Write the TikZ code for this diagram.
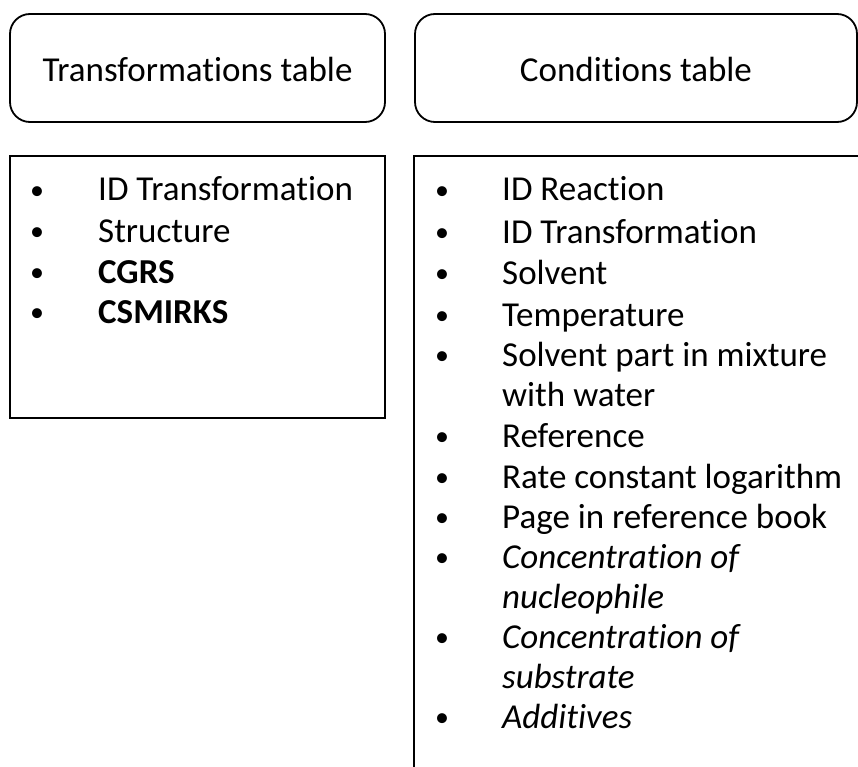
\documentclass[tikz,border=0pt]{standalone}
\usepackage{fontspec}
\setmainfont[Ligatures={NoCommon},RawFeature={-liga;-clig}]{Carlito}
\begin{document}
\begin{tikzpicture}[x=1pt,y=-1pt,
  hdrbox/.style={draw=black,line width=1.8pt,rounded corners=20pt},
  listbox/.style={draw=black,line width=1.8pt},
  hdrtext/.style={font=\fontsize{35}{40}\selectfont,inner sep=0pt,anchor=base},
  item/.style={font=\fontsize{35}{40}\selectfont,inner sep=0pt,anchor=base west},
  bul/.style={font=\fontsize{28}{32}\selectfont,inner sep=0pt,anchor=center}]
\useasboundingbox (0,0) rectangle (858,767);
\clip (0,0) rectangle (858,767);
% header boxes
\draw[hdrbox] (10,14) rectangle (385,122);
\draw[hdrbox] (415,14) rectangle (857,122);
\node[hdrtext] (t1) at (197.5,82) {Transformations table};
\node[hdrtext] (t2) at (636,82) {Conditions table};
% list boxes
\draw[listbox] (10,156) rectangle (385,418);
\draw[listbox] (414,156) rectangle (900,800);
% left list
\foreach \y/\txt [count=\i] in {201/{ID Transformation},242/{Structure},283/{\textbf{CGRS}},323/{\textbf{CSMIRKS}}}{
  \node[bul] (lb\i) at (37,\y-8) {•};
  \node[item] (li\i) at (98,\y) {\txt};
}
% right list
\foreach \y/\txt [count=\i] in {201/{ID Reaction},243/{ID Transformation},284/{Solvent},326/{Temperature},366/{Solvent part in mixture},447/{Reference},488/{Rate constant logarithm},528/{Page in reference book},568/{\textit{Concentration of}},648/{\textit{Concentration of}},728/{\textit{Additives}}}{
  \node[bul] (rb\i) at (442,\y-8) {•};
  \node[item] (ri\i) at (502,\y) {\txt};
}
\node[item] (rc1) at (502,406) {with water};
\node[item] (rc2) at (502,608) {\textit{nucleophile}};
\node[item] (rc3) at (502,688) {\textit{substrate}};
\end{tikzpicture}
\end{document}
